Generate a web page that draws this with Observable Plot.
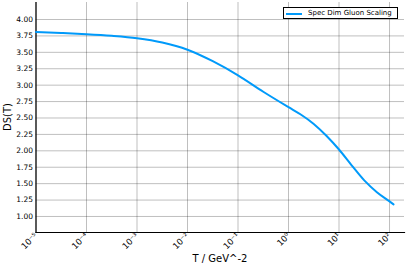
<!DOCTYPE html>
<html>
<head>
<meta charset="utf-8">
<script src="https://cdn.jsdelivr.net/npm/d3@7"></script>
<script src="https://cdn.jsdelivr.net/npm/@observablehq/plot@0.6"></script>
<style>
  html, body { margin: 0; padding: 0; background: #fff; }
  #wrap { position: relative; width: 407px; height: 271px; font-family: "DejaVu Sans", sans-serif; }
  #legend { position: absolute; left: 283px; top: 7px; width: 115px; height: 12px; border: 1px solid #000; background: #fff; box-sizing: border-box; font-size: 7px; line-height: 10px; white-space: nowrap; }
  #legend .sw { position: absolute; left: 2px; top: 4.5px; width: 16px; height: 2px; background: #009AFA; }
  #legend .tx { position: absolute; left: 24px; top: 0px; }
</style>
</head>
<body>
<div id="wrap"></div>
<script>
// Data: T (GeV^-2) and spectral dimension DS(T)
const logT = [-5, -4.5, -4, -3.5, -3, -2.5, -2, -1.5, -1, -0.5, 0, 0.25, 0.5, 0.75, 1, 1.25, 1.5, 1.75, 2, 2.08];
const DS = [3.81, 3.795, 3.777, 3.752, 3.715, 3.65, 3.54, 3.365, 3.15, 2.90, 2.665, 2.55, 2.41, 2.23, 2.02, 1.78, 1.55, 1.37, 1.23, 1.185];
const xTicks = [1e-5, 1e-4, 1e-3, 1e-2, 1e-1, 1, 10, 100];
const yTicks = [1.00, 1.25, 1.50, 1.75, 2.00, 2.25, 2.50, 2.75, 3.00, 3.25, 3.50, 3.75, 4.00];
const seriesName = "Spec Dim Gluon Scaling";
const xLabel = "T / GeV^-2";
const yLabel = "DS(T)";

const data = logT.map((l, i) => ({T: Math.pow(10, l), DS: DS[i]}));
const sup = {"-": "⁻", "0": "⁰", "1": "¹", "2": "²", "3": "³", "4": "⁴", "5": "⁵", "6": "⁶", "7": "⁷", "8": "⁸", "9": "⁹"};
const fmtPow = d => "10" + String(Math.round(Math.log10(d))).split("").map(c => sup[c]).join("");

const chart = Plot.plot({
  width: 407,
  height: 271,
  marginLeft: 35.5,
  marginRight: 3,
  marginTop: 2,
  marginBottom: 39,
  style: {fontFamily: "DejaVu Sans, sans-serif", fontSize: "7.5px", background: "#fff"},
  x: {type: "log", domain: [1e-5, 198]},
  y: {domain: [0.756, 4.259]},
  marks: [
    Plot.gridX(xTicks, {stroke: "#000", strokeOpacity: 0.25, strokeWidth: 1}),
    Plot.gridY(yTicks, {stroke: "#000", strokeOpacity: 0.25, strokeWidth: 1}),
    Plot.axisY(yTicks, {tickSize: 0, tickPadding: 3, tickFormat: d => d.toFixed(2), label: null, fontSize: 7.5}),
    Plot.axisX(xTicks, {tickSize: 0, tickPadding: 2, tickRotate: -45, tickFormat: fmtPow, label: null, fontSize: 8.5}),
    Plot.frame({anchor: "left", stroke: "#000", strokeWidth: 1.2}),
    Plot.frame({anchor: "bottom", stroke: "#000", strokeWidth: 1.2}),
    Plot.line(data, {x: "T", y: "DS", stroke: "#009AFA", strokeWidth: 2, curve: "monotone-x"})
  ]
});

const wrap = document.getElementById("wrap");
wrap.appendChild(chart);

// axis titles
const svg = d3.select(chart);
svg.append("text").attr("x", 220).attr("y", 262).attr("text-anchor", "middle")
  .attr("font-size", 10).attr("fill", "#000").text(xLabel);
svg.append("text").attr("transform", "translate(11,117) rotate(-90)").attr("text-anchor", "middle")
  .attr("font-size", 10).attr("fill", "#000").text(yLabel);

// legend
const lg = document.createElement("div");
lg.id = "legend";
lg.innerHTML = '<div class="sw"></div><div class="tx"></div>';
lg.querySelector(".tx").textContent = seriesName;
wrap.appendChild(lg);
</script>
</body>
</html>
